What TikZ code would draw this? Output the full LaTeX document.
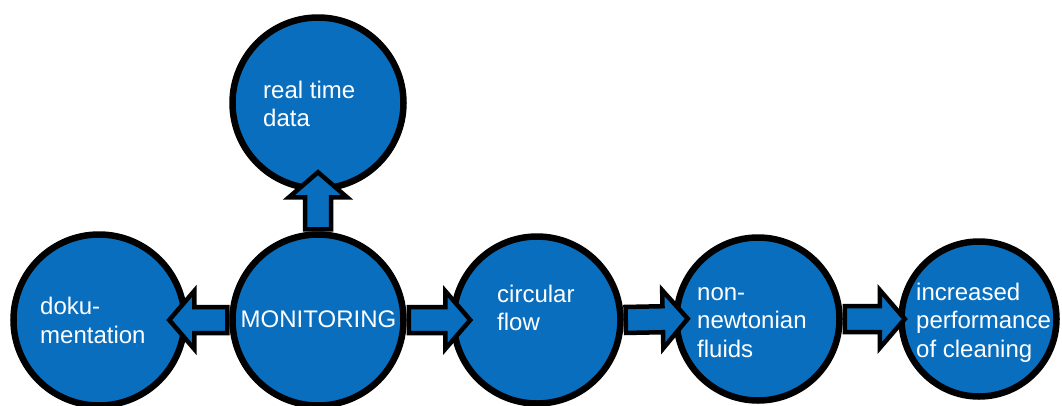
\documentclass[tikz,border=0pt]{standalone}
\usepackage{fontspec}
\setmainfont{Liberation Sans}
\usetikzlibrary{calc}
\definecolor{cblue}{RGB}{10,110,190}
\tikzset{
  bubble/.style={circle, draw=black, fill=cblue, line width=6.5pt, inner sep=0pt, minimum size=#1},
  bubble/.default=171pt,
  bubbletext/.style={text=white, inner sep=0pt, align=left, font=\fontsize{24}{28.5}\selectfont, anchor=base west},
  blockarrowstyle/.style={draw=black, fill=cblue, line width=4.5pt, line join=miter},
}
% #1 source anchor, #2 target anchor, #3 how far the tip enters the target
\newcommand\blockarrow[3]{%
  \coordinate (ba-s) at ($(#1)!2pt!(#2)$);
  \coordinate (ba-t) at ($(#2)!-#3!(#1)$);
  \coordinate (ba-b) at ($(ba-t)!25pt!(ba-s)$);
  \draw[blockarrowstyle]
    ($(ba-s)!13pt!90:(ba-t)$) -- ($(ba-b)!13pt!90:(ba-t)$) -- ($(ba-b)!29pt!90:(ba-t)$)
    -- (ba-t)
    -- ($(ba-b)!29pt!-90:(ba-t)$) -- ($(ba-b)!13pt!-90:(ba-t)$) -- ($(ba-s)!13pt!-90:(ba-t)$) -- cycle;
}
\begin{document}
\begin{tikzpicture}[x=1pt,y=-1pt]
\useasboundingbox (0,0) rectangle (1062,405);
\clip (0,0) rectangle (1062,405);
% circles
\node[bubble] (doku) at (99,320) {};
\node[bubble] (mon) at (318,320) {};
\node[bubble] (real) at (318,103) {};
\node[bubble=167pt] (circ) at (537,320) {};
\node[bubble=163pt] (non) at (758,319) {};
\node[bubble=155pt] (inc) at (979,319) {};
% block arrows
\blockarrow{mon.north}{real.south}{19.5pt}
\blockarrow{mon.west}{doku.east}{18.5pt}
\blockarrow{mon.east}{circ.west}{20pt}
\blockarrow{circ.east}{non.west}{14.5pt}
\blockarrow{non.east}{inc.west}{6.5pt}
% texts (base anchor = baseline of the last line)
\node[bubbletext] (treal) at (263,126.5) {real time\\data};
\node[bubbletext] (tdoku) at (40,343) {doku-\\mentation};
\node[bubbletext, anchor=base] (tmon) at (318.5,327) {MONITORING};
\node[bubbletext] (tcirc) at (497,330.5) {circular\\flow};
\node[bubbletext] (tnon) at (697,357) {non-\\newtonian\\fluids};
\node[bubbletext] (tinc) at (916,357) {increased\\performance\\of cleaning};
\end{tikzpicture}
\end{document}
